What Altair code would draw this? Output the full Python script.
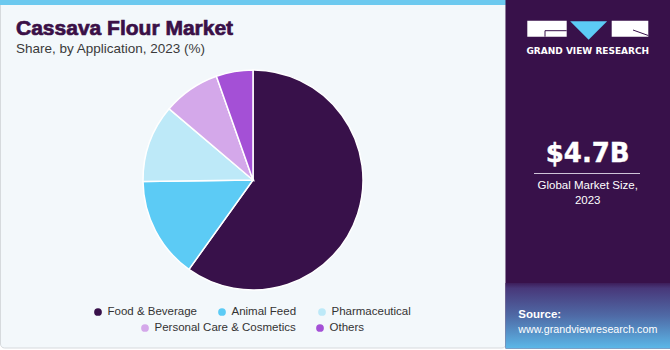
import altair as alt
import pandas as pd

# ---- data ----
categories = ["Food & Beverage", "Animal Feed", "Pharmaceutical",
              "Personal Care & Cosmetics", "Others"]
shares = [59.9, 14.9, 11.4, 8.4, 5.4]
colors = ["#38114a", "#5ccbf5", "#bde9f8", "#d4a8ea", "#a450d6"]

title_text = "Cassava Flour Market"
subtitle_text = "Share, by Application, 2023 (%)"
market_value = "$4.7B"
market_label = ["Global Market Size,", "2023"]
source_lines = ["Source:", "www.grandviewresearch.com"]
brand = "GRAND VIEW RESEARCH"

W, H = 670, 350
FONT = "Liberation Sans"
one = pd.DataFrame({"k": [0]})

df = pd.DataFrame({"app": categories, "value": shares, "idx": list(range(len(categories)))})


def rect(x, x2, y, y2, **kw):
    return alt.Chart(one).mark_rect(**kw).encode(
        x=alt.value(x), x2=alt.value(x2), y=alt.value(y), y2=alt.value(y2))


def text(t, x, y, **kw):
    return alt.Chart(one).mark_text(text=t, **kw).encode(x=alt.value(x), y=alt.value(y))


def rule(x, x2, y, y2, **kw):
    return alt.Chart(one).mark_rule(**kw).encode(
        x=alt.value(x), x2=alt.value(x2), y=alt.value(y), y2=alt.value(y2))


layers = []
# left panel
layers.append(rect(0.5, 506, 0.5, 348, fill="#f3f8fb", stroke="#d6dadd", strokeWidth=1, cornerRadius=4))
layers.append(rect(0, 506, 0, 5, fill="#6cc9ef"))
# right panel
layers.append(rect(505.5, 670, 0, 348.5, fill="#38114a"))
grad = {"gradient": "linear", "x1": 0, "y1": 0, "x2": 0, "y2": 1,
        "stops": [{"offset": 0, "color": "#3d1d5a"},
                  {"offset": 0.08, "color": "#48387a"},
                  {"offset": 0.5, "color": "#4f6aa6"},
                  {"offset": 1, "color": "#5cb8e8"}]}
layers.append(rect(505.5, 670, 283, 348.5, fill=grad))

# pie
pie = alt.Chart(df).mark_arc(outerRadius=110, stroke="white", strokeWidth=1.5).encode(
    theta=alt.Theta("value:Q", stack=True),
    color=alt.Color("app:N", scale=alt.Scale(domain=categories, range=colors), legend=None),
    order=alt.Order("idx:Q"),
    x=alt.value(253), y=alt.value(180),
)
layers.append(pie)

# legend (manual, centred rows)
legend_pos = [(98, 312), (222, 312), (322, 312), (145, 328), (320, 328)]
for i, cat in enumerate(categories):
    lx, ly = legend_pos[i]
    d = df[df["app"] == cat]
    layers.append(alt.Chart(d).mark_point(filled=True, size=60, opacity=1, strokeWidth=0).encode(
        x=alt.value(lx), y=alt.value(ly),
        color=alt.Color("app:N", scale=alt.Scale(domain=categories, range=colors), legend=None)))
    layers.append(alt.Chart(d).mark_text(align="left", baseline="middle", font=FONT,
                                         fontSize=11.5, color="#333333").encode(
        x=alt.value(lx + 9.5), y=alt.value(ly), text="app:N"))

# titles
layers.append(text(title_text, 16, 35, align="left", baseline="alphabetic", font=FONT,
                   fontSize=21, fontWeight="bold", color="#3a1047",
                   stroke="#3a1047", strokeWidth=0.7))
layers.append(text(subtitle_text, 16, 53, align="left", baseline="alphabetic", font=FONT,
                   fontSize=13.5, color="#3a3a3a"))

# logo
layers.append(rect(527.3, 566.7, 20.7, 36.7, fill="white"))
layers.append(rect(611.7, 648.3, 20.7, 36.7, fill="white"))
layers.append(rule(545, 566.7, 30.7, 30.7, color="#38114a", strokeWidth=1))
layers.append(rule(545, 545, 30.7, 36.7, color="#38114a", strokeWidth=1))
layers.append(rule(633, 648.3, 30, 35.5, color="#38114a", strokeWidth=1))
layers.append(alt.Chart(one).mark_point(shape="M-1,-0.5L1,-0.5L0,0.5Z", size=37 * 37,
                                        filled=True, color="#5ccbf5", opacity=1, strokeWidth=0).encode(
    x=alt.value(588.6), y=alt.value(30.4)))
layers.append(text(brand, 587.8, 50.5, align="center", baseline="middle", font="DejaVu Sans",
                   fontSize=9, fontWeight="bold", color="white"))

# market size
layers.append(text(market_value, 587.7, 162, align="center", baseline="alphabetic",
                   font="DejaVu Sans", fontSize=26, fontWeight="bold", color="white",
                   stroke="white", strokeWidth=0.4))
layers.append(rule(534, 640, 173.5, 173.5, color="#cfc4d8", strokeWidth=1))
layers.append(text(market_label[0], 587.7, 188.5, align="center", baseline="alphabetic",
                   font=FONT, fontSize=11.5, color="white"))
layers.append(text(market_label[1], 587.7, 204, align="center", baseline="alphabetic",
                   font=FONT, fontSize=11.5, color="white"))

# source
layers.append(text(source_lines[0], 518.3, 318.3, align="left", baseline="alphabetic",
                   font=FONT, fontSize=11.5, fontWeight="bold", color="white"))
layers.append(text(source_lines[1], 518.3, 333, align="left", baseline="alphabetic",
                   font=FONT, fontSize=10.7, color="white"))

chart = alt.layer(*layers).properties(
    width=W, height=H, autosize=alt.AutoSizeParams(type="none"), padding=0,
    background="white",
).configure_view(stroke=None)

chart.save("out.html", embed_options={"renderer": "svg", "actions": False})
